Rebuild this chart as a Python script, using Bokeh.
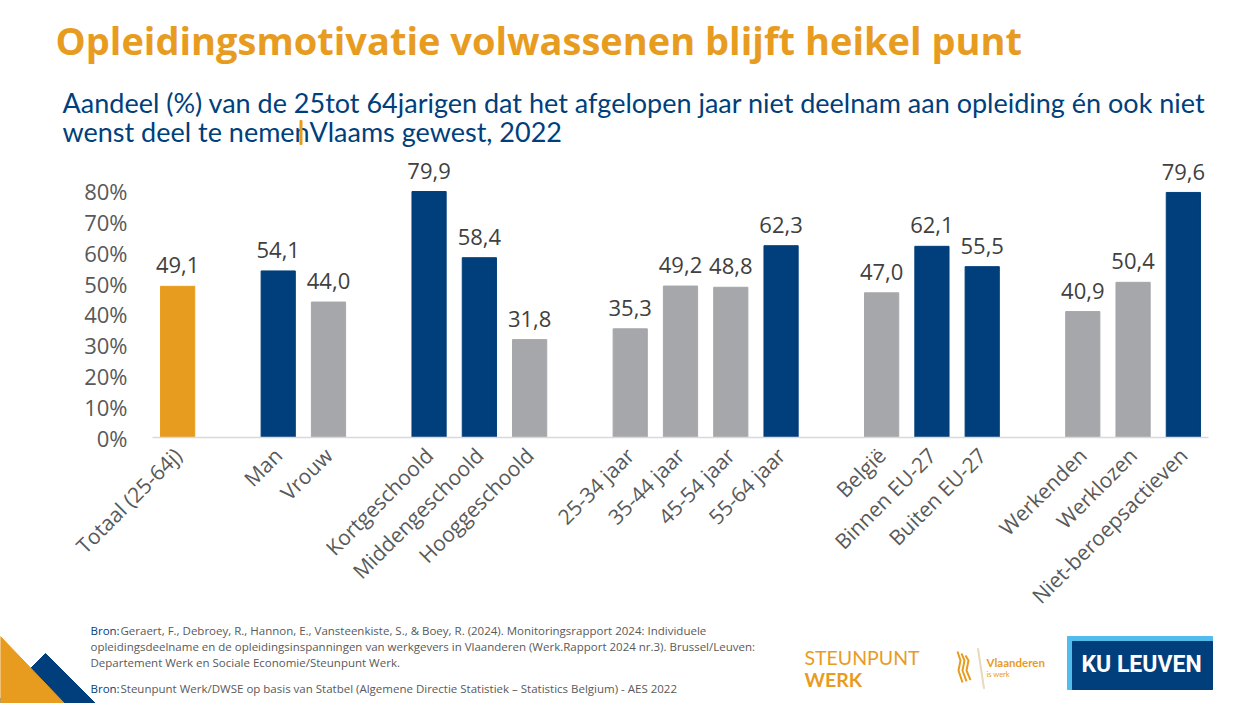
import math
from bokeh.plotting import figure
from bokeh.layouts import column
from bokeh.models import FixedTicker, PrintfTickFormatter, ColumnDataSource, Range1d
from bokeh.core.properties import value
from bokeh.embed import file_html
from bokeh.resources import INLINE

# ---------------- data ----------------
categories = ["Totaal (25-64j)", "Man", "Vrouw", "Kortgeschoold", "Middengeschoold",
              "Hooggeschoold", "25-34 jaar", "35-44 jaar", "45-54 jaar", "55-64 jaar",
              "België", "Binnen EU-27", "Buiten EU-27", "Werkenden", "Werklozen",
              "Niet-beroepsactieven"]
groups = [0, 1, 1, 2, 2, 2, 3, 3, 3, 3, 4, 4, 4, 5, 5, 5]
values = [49.1, 54.1, 44.0, 79.9, 58.4, 31.8, 35.3, 49.2, 48.8, 62.3,
          47.0, 62.1, 55.5, 40.9, 50.4, 79.6]
color_keys = ["total", "hi", "lo", "hi", "hi", "lo", "lo", "lo", "lo", "hi",
              "lo", "hi", "hi", "lo", "lo", "hi"]
y_ticks = [0, 10, 20, 30, 40, 50, 60, 70, 80]

title = "Opleidingsmotivatie volwassenen blijft heikel punt"
subtitle_1 = "Aandeel (%) van de 25tot 64jarigen dat het afgelopen jaar niet deelnam aan opleiding én ook niet"
subtitle_2a = "wenst deel te nemen"
subtitle_2b = "Vlaams gewest, 2022"
source_1 = ["Geraert, F., Debroey, R., Hannon, E., Vansteenkiste, S., & Boey, R. (2024). Monitoringsrapport 2024: Individuele",
            "opleidingsdeelname en de opleidingsinspanningen van werkgevers in Vlaanderen (Werk.Rapport 2024 nr.3). Brussel/Leuven:",
            "Departement Werk en Sociale Economie/Steunpunt Werk."]
source_2 = "Steunpunt Werk/DWSE op basis van Statbel (Algemene Directie Statistiek – Statistics Belgium) - AES 2022"

# ---------------- style ----------------
ORANGE = "#E89C1F"
NAVY = "#003F7C"
GREY = "#A5A7AA"
TXT = "#595959"
palette = {"total": ORANGE, "hi": NAVY, "lo": GREY}

W = 1250
HEAD_H = 150
MAIN_H = 472
FOOT_H = 703 - HEAD_H - MAIN_H
FL, FR, FT = 152, 42, 0
FH = 289
FB = MAIN_H - FT - FH
NSLOT = 21
PX_PER_UNIT = 3.1
YMAX = FH / PX_PER_UNIT
PXY = 1 / PX_PER_UNIT
BASE_FIX = 0.33  # measured shift of the rendered baseline, in em


def blank(h, y0):
    f = figure(width=W, height=h, output_backend="svg", toolbar_location=None,
               x_range=Range1d(0, W), y_range=Range1d(y0 + h, y0),
               x_axis_type=None, y_axis_type=None, min_border=0)
    f.outline_line_color = None
    f.grid.visible = False
    f.background_fill_color = "white"
    f.border_fill_color = "white"
    return f


def txt(f, x, y, s, font, size, color, style="normal", align="left"):
    f.text(x=[x], y=[y - BASE_FIX * size], text=[s], text_font=value(font),
           text_font_size=f"{size}px", text_color=color, text_font_style=style,
           text_align=align, text_baseline="alphabetic")


# ---------------- header ----------------
head = blank(HEAD_H, 0)
txt(head, 55, 52, title, "Open Sans", 38, ORANGE, "bold")
txt(head, 62, 111, subtitle_1, "Lato", 27, NAVY)
txt(head, 62, 140, subtitle_2a, "Lato", 27, NAVY)
head.quad(left=299.5, right=301.5, top=120, bottom=144, color=ORANGE)
txt(head, 309, 140, subtitle_2b, "Lato", 27, NAVY)

# ---------------- main chart ----------------
slots = [i + g for i, g in enumerate(groups)]
colors = [palette[k] for k in color_keys]
labels = [f"{v:.1f}".replace(".", ",") for v in values]

p = figure(width=W, height=MAIN_H, output_backend="svg", toolbar_location=None,
           x_range=Range1d(-0.5, NSLOT - 0.5), y_range=Range1d(0, YMAX),
           min_border_left=FL, min_border_right=FR, min_border_top=FT,
           min_border_bottom=FB)
p.outline_line_color = None
p.xgrid.visible = False
p.ygrid.visible = False
p.background_fill_color = "white"
p.border_fill_color = "white"

src = ColumnDataSource(dict(x=slots, top=values, color=colors, lab=labels,
                            ly=[v + 21 * PXY for v in values]))
p.vbar(x="x", top="top", width=0.68, color="color", source=src)
p.text(x="x", y="ly", text="lab", source=src, text_align="center",
       text_baseline="alphabetic", text_font=value("Open Sans"),
       text_font_size="22px", text_color="#404040")

xa = p.xaxis[0]
xa.ticker = FixedTicker(ticks=slots)
xa.major_label_overrides = {s: c for s, c in zip(slots, categories)}
xa.major_label_orientation = math.pi / 4
xa.major_tick_line_color = None
xa.minor_tick_line_color = None
xa.major_tick_out = 0
xa.major_tick_in = 0
xa.axis_line_color = "#D9D9D9"
xa.axis_line_width = 1.5
xa.major_label_text_font = "Open Sans"
xa.major_label_text_font_size = "21px"
xa.major_label_text_color = TXT
xa.major_label_standoff = 14

ya = p.yaxis[0]
ya.ticker = FixedTicker(ticks=y_ticks)
ya.formatter = PrintfTickFormatter(format="%d%%")
ya.axis_line_color = None
ya.major_tick_line_color = None
ya.minor_tick_line_color = None
ya.major_tick_out = 0
ya.major_tick_in = 0
ya.major_label_text_font = "Open Sans"
ya.major_label_text_font_size = "22px"
ya.major_label_text_color = TXT
ya.major_label_standoff = 25

# ---------------- footer ----------------
Y0 = HEAD_H + MAIN_H
foot = blank(FOOT_H, Y0)
foot.patch(x=[-5, 45, 95], y=[703, 653, 703], color=NAVY)
foot.patch(x=[0, 0, 64], y=[636, 703, 703], color=ORANGE)

FS = 11.5
txt(foot, 90, 634, "Bron:", "Open Sans", FS, NAVY)
txt(foot, 120, 634, source_1[0], "Open Sans", FS, TXT)
txt(foot, 90, 650, source_1[1], "Open Sans", FS, TXT)
txt(foot, 90, 666, source_1[2], "Open Sans", FS, TXT)
txt(foot, 90, 692, "Bron:", "Open Sans", FS, NAVY)
txt(foot, 120, 692, source_2, "Open Sans", FS, TXT)

txt(foot, 804, 663, "STEUNPUNT", "Lato", 19.5, ORANGE)
txt(foot, 804, 685, "WERK", "Lato", 19.5, ORANGE, "bold")
# Vlaanderen lion mark (simplified strokes)
for dx in (0, 4, 8):
    foot.line(x=[957 + dx, 960 + dx, 958 + dx, 962 + dx],
              y=[651 + dx * 0.5, 660, 670, 682 - dx * 0.3],
              line_color=ORANGE, line_width=2)
foot.patch(x=[977, 978, 984, 983], y=[648, 648, 688, 688], color="#EAD9B8")
txt(foot, 986, 666, "Vlaanderen", "Lato", 11.5, ORANGE, "bold")
txt(foot, 986, 676, "is werk", "Lato", 7.5, ORANGE)
foot.quad(left=1067, right=1212, top=636, bottom=689, color="#52BDEC")
foot.quad(left=1072, right=1212, top=641, bottom=689, color=NAVY)
txt(foot, 1141, 672, "KU LEUVEN", "Roboto", 23, "white", "bold", "center")

layout = column(column(head), column(p), column(foot), spacing=0)
open("out.html", "w").write(file_html(layout, INLINE))
